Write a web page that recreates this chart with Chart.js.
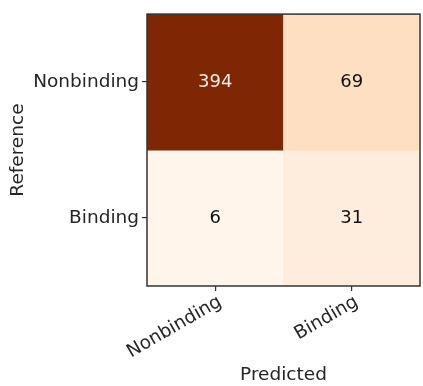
<!DOCTYPE html>
<html>
<head>
<meta charset="utf-8">
<script src="https://cdn.jsdelivr.net/npm/chart.js@4/dist/chart.umd.min.js"></script>
<style>
  html, body { margin: 0; padding: 0; background: #ffffff; }
  #wrap { width: 423px; height: 386px; position: relative; }
</style>
</head>
<body>
<div id="wrap"><canvas id="cm"></canvas></div>
<script>
// Confusion matrix: rows = reference class, columns = predicted class
const referenceClasses = ['Nonbinding', 'Binding'];
const predictedClasses = ['Nonbinding', 'Binding'];
const countsNonbinding = [394, 69];
const countsBinding = [6, 31];
const rows = [countsNonbinding, countsBinding];

// Matplotlib "Oranges" colour stops
const oranges = ['#fff5eb', '#fee6ce', '#fdd0a2', '#fdae6b', '#fd8d3c', '#f16913', '#d94801', '#a63603', '#7f2704'];
function hexToRgb(h) { return [1, 3, 5].map(i => parseInt(h.substr(i, 2), 16)); }
function orangesAt(t) {
  t = Math.max(0, Math.min(1, t));
  const pos = t * (oranges.length - 1);
  const i = Math.min(Math.floor(pos), oranges.length - 2);
  const f = pos - i;
  const a = hexToRgb(oranges[i]), b = hexToRgb(oranges[i + 1]);
  const c = a.map((v, k) => Math.round(v + (b[k] - v) * f));
  return `rgb(${c[0]},${c[1]},${c[2]})`;
}
const allCounts = rows.flat();
const vmin = Math.min(...allCounts), vmax = Math.max(...allCounts);
const norm = v => (v - vmin) / (vmax - vmin);

const nRows = referenceClasses.length;
// One floating-bar dataset per reference row; each bar spans one row band
const datasets = rows.map((counts, r) => ({
  label: referenceClasses[r],
  counts: counts,
  data: counts.map(() => [nRows - 1 - r, nRows - r]),
  backgroundColor: counts.map(v => orangesAt(norm(v))),
  borderWidth: 0,
  grouped: false,
  barPercentage: 1,
  categoryPercentage: 1
}));

const FONT = "'DejaVu Sans', sans-serif";
const TEXT = '#262626';

// Writes each cell's count in its centre, light text on dark cells
const cellLabels = {
  id: 'cellLabels',
  afterDatasetsDraw(chart) {
    const ctx = chart.ctx;
    ctx.save();
    ctx.font = `18px ${FONT}`;
    ctx.textAlign = 'center';
    ctx.textBaseline = 'middle';
    chart.data.datasets.forEach((ds, di) => {
      chart.getDatasetMeta(di).data.forEach((bar, i) => {
        const v = ds.counts[i];
        const p = bar.getProps(['x', 'y', 'base'], true);
        ctx.fillStyle = norm(v) > 0.5 ? '#f5ebe6' : '#111111';
        ctx.fillText(String(v), p.x, (p.y + p.base) / 2);
      });
    });
    ctx.restore();
  }
};

// Frame around the plot area
const frame = {
  id: 'frame',
  afterDatasetsDraw(chart) {
    const a = chart.chartArea, ctx = chart.ctx;
    ctx.save();
    ctx.strokeStyle = '#333333';
    ctx.lineWidth = 1.5;
    ctx.strokeRect(a.left, a.top, a.right - a.left, a.bottom - a.top);
    ctx.restore();
  }
};

new Chart(document.getElementById('cm'), {
  type: 'bar',
  data: { labels: predictedClasses, datasets: datasets },
  options: {
    responsive: true,
    maintainAspectRatio: false,
    animation: false,
    layout: { padding: { top: 13, right: 3, left: 0, bottom: 0 } },
    plugins: { legend: { display: false }, tooltip: { enabled: false } },
    scales: {
      x: {
        type: 'category',
        offset: true,
        border: { display: false },
        grid: { display: true, offset: false, drawOnChartArea: false, drawTicks: true, tickLength: 5, color: '#333333', lineWidth: 1.2 },
        ticks: { minRotation: 30, maxRotation: 30, padding: 0, labelOffset: 5, color: TEXT, font: { family: FONT, size: 18.5 } },
        title: { display: true, text: 'Predicted', color: TEXT, font: { family: FONT, size: 18.5 }, padding: { top: 0, bottom: 0 } },
        afterFit(s) { s.height = 100; }
      },
      y: {
        type: 'linear',
        min: 0,
        max: nRows,
        border: { display: false },
        grid: { display: true, drawOnChartArea: false, drawTicks: true, tickLength: 5, color: '#333333', lineWidth: 1.2 },
        afterBuildTicks(s) { s.ticks = referenceClasses.map((_, r) => ({ value: nRows - 1 - r + 0.5 })); },
        ticks: {
          padding: 3,
          color: TEXT,
          font: { family: FONT, size: 18.5 },
          callback(v) { return referenceClasses[nRows - 1 - Math.floor(v)]; }
        },
        title: { display: true, text: 'Reference', color: TEXT, font: { family: FONT, size: 18.5 }, padding: { top: 7, bottom: 0 } },
        afterFit(s) { s.width = 147; }
      }
    }
  },
  plugins: [cellLabels, frame]
});
</script>
</body>
</html>
